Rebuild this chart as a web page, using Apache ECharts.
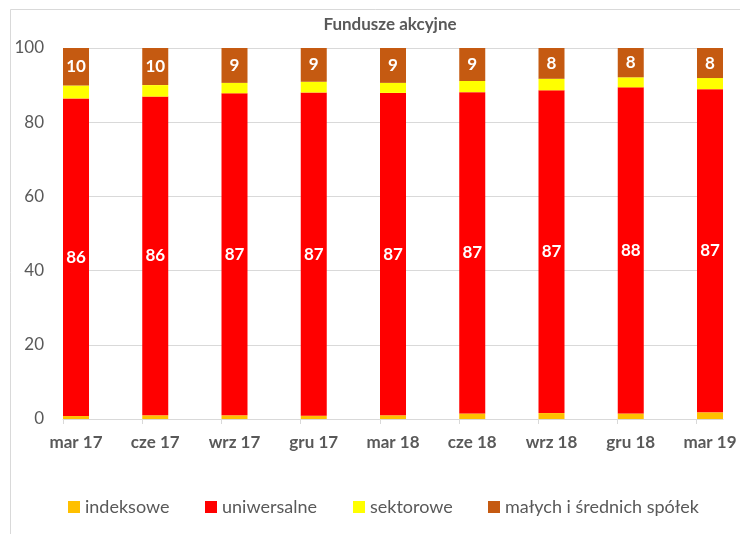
<!DOCTYPE html>
<html>
<head>
<meta charset="utf-8">
<script src="https://cdn.jsdelivr.net/npm/echarts@6/dist/echarts.min.js"></script>
<style>html,body{margin:0;padding:0;background:#fff}#c{width:740px;height:534px}</style>
</head>
<body>
<div id="c"></div>
<script>
const categories = ['mar 17','cze 17','wrz 17','gru 17','mar 18','cze 18','wrz 18','gru 18','mar 19'];
const indeksowe   = [0.8, 1.0, 1.0, 0.9, 1.0, 1.5, 1.6, 1.5, 1.8];
const uniwersalne = [85.6, 85.9, 86.8, 87.1, 86.9, 86.6, 87.0, 87.9, 87.1];
const sektorowe   = [3.5, 3.1, 2.8, 2.9, 2.7, 3.0, 3.1, 2.7, 3.0];
const maleSrednie = [10.1, 10.0, 9.4, 9.1, 9.4, 8.9, 8.3, 7.9, 8.1];
const yTicks = [0, 20, 40, 60, 80, 100];
const seriesNames = ['indeksowe','uniwersalne','sektorowe','małych i średnich spółek'];
const seriesColors = ['#FFC000','#FF0000','#FFFF00','#C55A11'];

const FONT = 'Lato';
const chart = echarts.init(document.getElementById('c'), null, {renderer:'canvas'});

const plotLeft = 63, plotRight = 723, step = 79.2;
const frameMax = (plotRight - plotLeft) / step;
const tickVals = categories.map((_, i) => i);
const legendLefts = [68, 205, 353, 488];

const labelCfg = {
  show: true, position: 'inside', color: '#fff', fontFamily: FONT,
  fontWeight: 'bold', fontSize: 17,
  formatter: p => Math.round(p.value)
};
const dataSets = [indeksowe, uniwersalne, sektorowe, maleSrednie];

chart.setOption({
  backgroundColor: '#fff',
  animation: false,
  title: {
    text: 'Fundusze akcyjne', left: 385, textAlign: 'center', top: 11,
    textStyle: {fontFamily: FONT, fontWeight: 'bold', fontSize: 17, color: '#595959'}
  },
  legend: seriesNames.map((n, i) => ({
    left: legendLefts[i], top: 498, itemWidth: 12, itemHeight: 12,
    icon: 'rect', data: [n], padding: 0,
    textStyle: {fontFamily: FONT, fontSize: 18, color: '#595959'}
  })),
  graphic: [{
    type: 'rect', silent: true, z: -10,
    shape: {x: 10.5, y: 9.5, width: 760, height: 560},
    style: {fill: 'none', stroke: '#d9d9d9', lineWidth: 1}
  }],
  grid: [
    {left: plotLeft, right: 740 - plotRight, top: 48, bottom: 115},
    {left: plotLeft + 13, right: 740 - plotRight + 13, top: 48, bottom: 115}
  ],
  xAxis: [
    {
      gridIndex: 0, type: 'value', min: 0, max: frameMax, interval: 1,
      axisLine: {show: true, lineStyle: {color: '#d9d9d9', width: 1}},
      axisTick: {show: true, length: 5, customValues: tickVals, lineStyle: {color: '#d9d9d9'}},
      axisLabel: {show: false}, splitLine: {show: false}
    },
    {
      gridIndex: 1, type: 'category', data: categories, boundaryGap: false,
      axisLine: {show: false}, axisTick: {show: false},
      axisLabel: {fontFamily: FONT, fontWeight: 'bold', fontSize: 17, color: '#595959', margin: 15, interval: 0}
    }
  ],
  yAxis: [
    {
      gridIndex: 0, type: 'value', min: 0, max: 100, interval: 20,
      axisLine: {show: false}, axisTick: {show: false},
      axisLabel: {fontFamily: FONT, fontSize: 17, color: '#595959', margin: 19,
        customValues: yTicks},
      splitLine: {lineStyle: {color: '#d9d9d9', width: 1}}
    },
    {gridIndex: 1, type: 'value', min: 0, max: 100, show: false}
  ],
  series: seriesNames.map((name, i) => ({
    name, type: 'bar', stack: 'total', xAxisIndex: 1, yAxisIndex: 1,
    barWidth: 26, data: dataSets[i],
    itemStyle: {color: seriesColors[i]},
    label: (i === 1 || i === 3) ? labelCfg : {show: false}
  }))
});
</script>
</body>
</html>
